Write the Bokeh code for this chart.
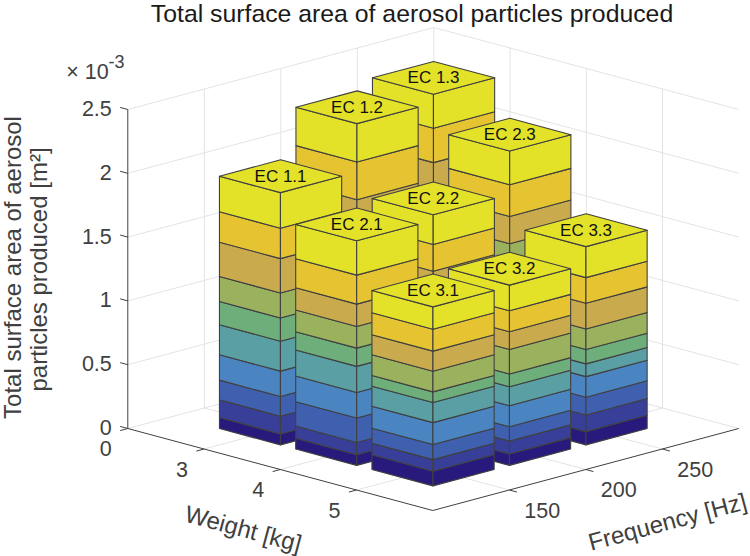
from bokeh.plotting import figure
from bokeh.models import Range1d, ColumnDataSource
from bokeh.core.properties import value
from bokeh.embed import file_html
from bokeh.resources import INLINE

TITLE = "Total surface area of aerosol particles produced"
WEIGHT_TICKS = [3, 4, 5]
FREQ_TICKS = [150, 200, 250]
Z_TICKS = [0, 0.5, 1, 1.5, 2, 2.5]
Z_LABELS = ["0", "0.5", "1", "1.5", "2", "2.5"]

NAMES = ["EC 1.3", "EC 1.2", "EC 2.3", "EC 1.1", "EC 2.2", "EC 3.3", "EC 2.1", "EC 3.2", "EC 3.1"]
WEIGHTS = [3, 3, 4, 3, 4, 5, 4, 5, 5]
FREQS = [250, 200, 250, 150, 200, 250, 150, 200, 150]

# cumulative layer tops of each bar, x 10^-3 m^2 (back to front order)
EC13 = [.11, .29, .50, .75, 1.00, 1.22, 1.55, 1.891, 2.161, 2.427]
EC12 = [.11, .28, .47, .72, .97, 1.19, 1.45, 1.761, 2.056, 2.357]
EC23 = [.10, .25, .42, .64, .87, 1.07, 1.416, 1.630, 1.878, 2.142]
EC11 = [.086, .225, .379, .578, .813, .995, 1.191, 1.460, 1.698, 1.977]
EC22 = [.09, .23, .40, .60, .78, .95, 1.17, 1.361, 1.571, 1.803]
EC33 = [.104, .235, .374, .535, .635, .747, .909, 1.110, 1.311, 1.554]
EC21 = [.084, .180, .371, .572, .776, .919, 1.089, 1.264, 1.491, 1.760]
EC32 = [.089, .190, .303, .468, .617, .716, .909, 1.048, 1.212, 1.413]
EC31 = [.115, .206, .324, .496, .653, .737, .899, 1.056, 1.228, 1.403]
TOPS = [EC13, EC12, EC23, EC11, EC22, EC33, EC21, EC32, EC31]

LAYER_COLORS = ["#281a7c", "#373f99", "#3f60ae", "#4a85c2", "#5a9fa3",
                "#6dae7b", "#9ab25d", "#c9ab4e", "#e6c331", "#e3e229"]

W, H = 750, 556
WMIN, WMAX, FMIN, FMAX, ZMAX = 2, 6, 100, 300, 2.5
HALF_W, HALF_F = 0.4, 20


def proj(w, f, z=0.0):
    """Orthographic view of the MATLAB axes box onto the plot's pixel-like range."""
    u = (w - WMAX)            # weight, towards viewer
    v = (f - FMIN) / 50.0     # frequency
    return 432.3 + u * 76.25 + v * 76.5, 510.0 + u * 20.5 - v * 20.5 - z * 127.6


p = figure(width=W, height=H, output_backend="svg", toolbar_location=None,
           x_range=Range1d(0, W), y_range=Range1d(H, 0), min_border=0,
           outline_line_color=None, background_fill_color="white")
p.xaxis.visible = False
p.yaxis.visible = False
p.grid.visible = False

# grid on walls and floor
gx, gy = [], []


def seg(a, b, xs=gx, ys=gy):
    xs.append([a[0], b[0]])
    ys.append([a[1], b[1]])


for z in Z_TICKS:
    seg(proj(WMIN, FMIN, z), proj(WMIN, FMAX, z))
    seg(proj(WMIN, FMAX, z), proj(WMAX, FMAX, z))
for f in FREQ_TICKS:
    seg(proj(WMIN, f, 0), proj(WMIN, f, ZMAX))
    seg(proj(WMIN, f, 0), proj(WMAX, f, 0))
for w in WEIGHT_TICKS:
    seg(proj(w, FMAX, 0), proj(w, FMAX, ZMAX))
    seg(proj(w, FMIN, 0), proj(w, FMAX, 0))
seg(proj(WMIN, FMAX, 0), proj(WMIN, FMAX, ZMAX))
p.multi_line(gx, gy, line_color="#e3e3e3", line_width=1)

# axes and ticks
ax, ay = [], []
seg(proj(WMIN, FMIN, 0), proj(WMIN, FMIN, ZMAX), ax, ay)
seg(proj(WMIN, FMIN, 0), proj(WMAX, FMIN, 0), ax, ay)
seg(proj(WMAX, FMIN, 0), proj(WMAX, FMAX, 0), ax, ay)
for z in Z_TICKS:
    seg(proj(WMIN, FMIN, z), proj(WMIN - 0.1, FMIN, z), ax, ay)
for w in [WMIN] + WEIGHT_TICKS:
    seg(proj(w, FMIN, 0), proj(w, FMIN - 5, 0), ax, ay)
for f in FREQ_TICKS:
    seg(proj(WMAX, f, 0), proj(WMAX + 0.1, f, 0), ax, ay)
p.multi_line(ax, ay, line_color="#404040", line_width=1)

# bars, painter's order
xs, ys, cols = [], [], []
for w, f, tops in zip(WEIGHTS, FREQS, TOPS):
    l = (w - HALF_W, f - HALF_F)
    c = (w + HALF_W, f - HALF_F)
    r = (w + HALF_W, f + HALF_F)
    b = (w - HALF_W, f + HALF_F)
    base = 0.0
    for top, col in zip(tops, LAYER_COLORS):
        for e0, e1 in ((l, c), (c, r)):
            pts = [proj(*e0, base), proj(*e1, base), proj(*e1, top), proj(*e0, top)]
            xs.append([q[0] for q in pts])
            ys.append([q[1] for q in pts])
            cols.append(col)
        base = top
    pts = [proj(*e, tops[-1]) for e in (l, c, r, b)]
    xs.append([q[0] for q in pts])
    ys.append([q[1] for q in pts])
    cols.append(LAYER_COLORS[-1])
p.patches("x", "y", source=ColumnDataSource(dict(x=xs, y=ys, c=cols)), fill_color="c",
          line_color="#404040", line_width=1.1, line_join="round")

FONT = value("Liberation Sans")
# bar labels
lab = [proj(w, f, t[-1]) for w, f, t in zip(WEIGHTS, FREQS, TOPS)]
p.text([q[0] for q in lab], [q[1] for q in lab], text=NAMES, text_font=FONT, text_font_size="17px",
       text_color="#111111", text_align="center", text_baseline="middle")


def txt(x, y, s, size, color="#404040", align="center", angle=0.0, baseline="middle"):
    p.text([x], [y], text=[s], text_font=FONT, text_font_size=f"{size}px", text_color=color,
           text_align=align, text_baseline=baseline, angle=angle)


txt(411.5, 13, TITLE, 24.8, color="#1a1a1a")
for z, s in zip(Z_TICKS, Z_LABELS):
    x0, y0 = proj(WMIN, FMIN, z)
    txt(x0 - 16, y0 - 1, s, 21.5, align="right")
for w, s in zip([WMIN] + WEIGHT_TICKS, ["0", "3", "4", "5"]):
    x0, y0 = proj(w, FMIN, 0)
    txt(x0 - 22, y0 + 20, s, 21.5)
for f in FREQ_TICKS:
    x0, y0 = proj(WMAX, f, 0)
    txt(x0 + 33, y0 + 20, str(f), 21.5)

txt(87, 71, "× 10", 21.5)
txt(116, 61, "-3", 18)
txt(12, 267, "Total surface area of aerosol", 24, angle=1.5708)
txt(38, 269, "particles produced [m²]", 24, angle=1.5708)
txt(243, 528, "Weight [kg]", 24, angle=-0.262)
txt(667, 521, "Frequency [Hz]", 24, angle=0.262)

open("out.html", "w").write(file_html(p, INLINE))
